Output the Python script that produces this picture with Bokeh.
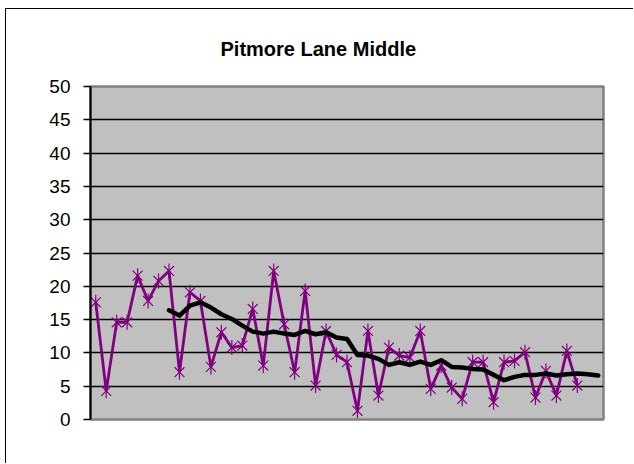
import numpy as np
from bokeh.plotting import figure
from bokeh.models import Range1d, FixedTicker, ColumnDataSource
from bokeh.embed import file_html
from bokeh.resources import INLINE

title_text = "Pitmore Lane Middle"
y_ticks = [0, 5, 10, 15, 20, 25, 30, 35, 40, 45, 50]
n_categories = 49

readings_x = list(range(1, 48))
readings = [17.6, 4.3, 14.6, 14.6, 21.6, 17.8, 20.8, 22.3, 7.1, 19.1,
            17.8, 7.9, 13.1, 10.8, 11.1, 16.6, 8.1, 22.3, 14.3, 7.1,
            19.3, 5.1, 13.3, 9.7, 8.6, 1.3, 13.3, 3.6, 10.8, 9.6,
            9.3, 13.3, 4.6, 8.1, 4.8, 3.1, 8.6, 8.6, 2.6, 8.6,
            8.8, 10.1, 3.3, 7.3, 3.6, 10.3, 5.1]

avg_x = list(range(8, 50))
avg = [16.4, 15.6, 17.1, 17.6, 16.8, 15.8, 15.1, 14.1, 13.2, 12.9,
       13.2, 12.9, 12.7, 13.3, 12.8, 13.1, 12.3, 12.1, 9.7, 9.6,
       9.1, 8.2, 8.6, 8.2, 8.7, 8.2, 8.9, 7.9, 7.8, 7.6,
       7.5, 6.7, 5.9, 6.4, 6.7, 6.7, 6.9, 6.6, 6.8, 6.9,
       6.8, 6.6]

p = figure(width=628, height=455, output_backend="svg", toolbar_location=None,
           x_axis_location=None,
           x_range=Range1d(0.5, n_categories + 0.5), y_range=Range1d(0, 50),
           min_border_left=84, min_border_right=31, min_border_top=76,
           min_border_bottom=45)
p.styles = {"border-top": "1px solid black", "border-left": "1px solid black",
            "margin-left": "5px", "margin-top": "8px"}

p.background_fill_color = "#C0C0C0"
p.border_fill_color = "white"
p.outline_line_color = "#808080"
p.outline_line_width = 2.5

p.title.text = title_text
p.title.align = "left"
p.title.text_font = "Liberation Sans"
p.title.text_font_size = "20px"
p.title.text_font_style = "bold"
p.title.text_color = "black"
p.title.standoff = 53
p.title.offset = 130

ax = p.yaxis[0]
ax.ticker = FixedTicker(ticks=y_ticks)
ax.major_label_text_font = "Liberation Sans"
ax.major_label_text_font_size = "19px"
ax.major_label_text_color = "black"
ax.axis_line_color = "black"
ax.axis_line_width = 2
ax.major_tick_line_color = "black"
ax.major_tick_line_width = 1.5
ax.major_tick_out = 7
ax.major_tick_in = 0
ax.minor_tick_line_color = None
ax.major_label_standoff = 13

p.ygrid.ticker = FixedTicker(ticks=y_ticks[1:-1])
p.ygrid.grid_line_color = "black"
p.ygrid.grid_line_width = 1.5
p.xgrid.visible = False

src = ColumnDataSource(dict(x=readings_x, y=readings))
p.line("x", "y", source=src, line_color="#800080", line_width=2.8)
p.scatter("x", "y", source=src, marker="x", size=14, line_color="#800080",
          line_width=1.2)
p.scatter("x", "y", source=src, marker="dash", angle=np.pi / 2, size=15,
          line_color="#800080", line_width=1.2)

p.line(avg_x, avg, line_color="black", line_width=4.5, line_join="round",
       line_cap="round")

open("out.html", "w").write(file_html(p, INLINE))
